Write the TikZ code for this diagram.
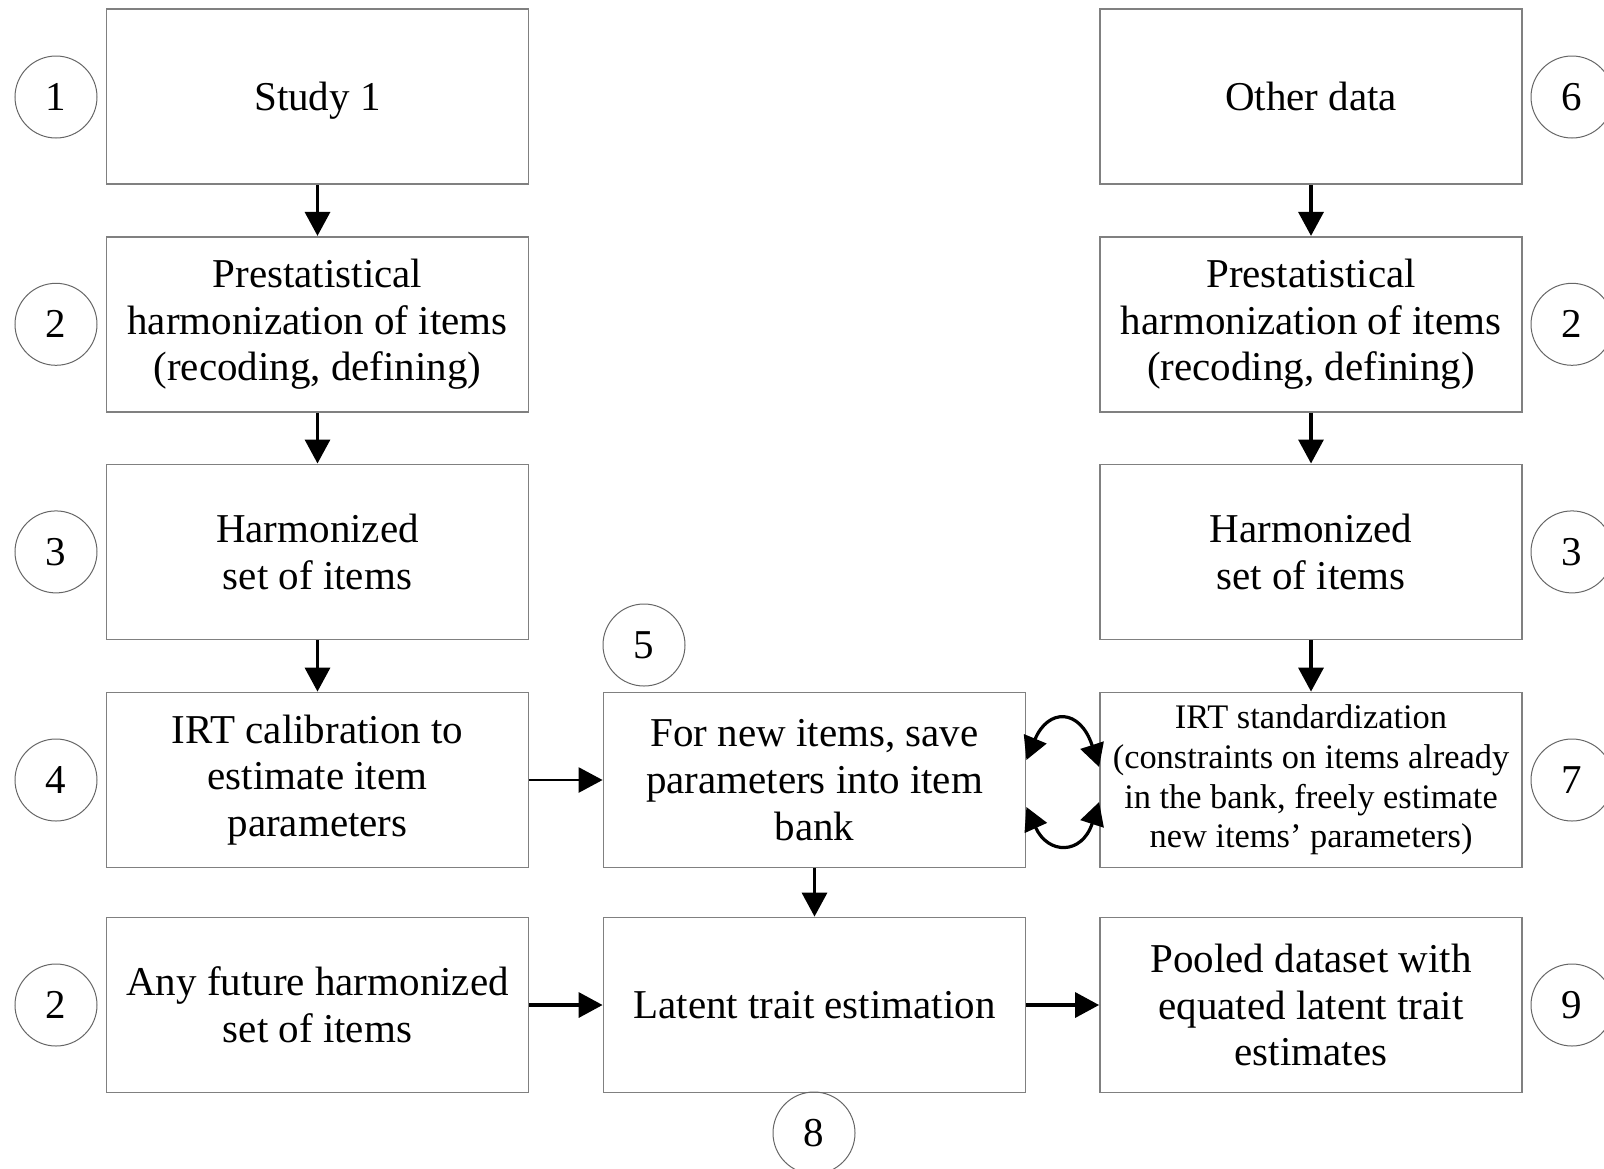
\documentclass[tikz,border=0pt]{standalone}
\usepackage{fontspec}
\setmainfont{Liberation Serif}
\usetikzlibrary{arrows.meta}
\begin{document}
\begin{tikzpicture}[x=0.5pt,y=-0.5pt,
  box/.style={draw=black!50,line width=0.9pt,minimum width=211pt,minimum height=87.5pt,
    align=center,inner sep=0pt,font=\fontsize{20.5}{23.4}\selectfont},
  smallbox/.style={box,font=\fontsize{17.2}{19.8}\selectfont},
  num/.style={circle,draw=black!60,line width=0.5pt,minimum size=41pt,inner sep=0pt,
    font=\fontsize{20.5}{23.4}\selectfont},
  arr/.style={line width=1.7pt,-{Triangle[length=12pt,width=12.5pt]}},
  carr/.style={line width=1.6pt,{Triangle[length=11.5pt,width=12pt]}-{Triangle[length=11.5pt,width=12pt]}}]
\useasboundingbox (0,0) rectangle (1604,1168);
\clip (0,0) rectangle (1604,1168);
% left column
\node[box] (b1) at (317.5,96.7) {\raisebox{0pt}[\height][0pt]{Study 1}};
\node[box] (b2l) at (317.5,324.3) {Prestatistical\\harmonization of items\\(recoding, defining)};
\node[box] (b3l) at (317.5,551.9) {Harmonized\\set of items};
\node[box] (b4) at (317.5,780) {IRT calibration to\\estimate item\\parameters};
\node[box] (b2f) at (317.5,1005) {Any future harmonized\\set of items};
% middle column
\node[box] (b5) at (814.5,780) {For new items, save\\parameters into item\\bank};
\node[box] (b8) at (814.5,1005) {Latent trait estimation};
% right column
\node[box] (b6) at (1311,96.7) {Other data};
\node[box] (b2r) at (1311,324.3) {Prestatistical\\harmonization of items\\(recoding, defining)};
\node[box] (b3r) at (1311,551.9) {Harmonized\\set of items};
\node[smallbox] (b7) at (1311,780) {IRT standardization\\(constraints on items already\\in the bank, freely estimate\\new items' parameters)};
\node[box] (b9) at (1311,1005) {Pooled dataset with\\equated latent trait\\estimates};
% numbered circles
\node[num] (n1) at (56,97) {1};
\node[num] (n2a) at (56,324.3) {2};
\node[num] (n3a) at (56,551.9) {3};
\node[num] (n4) at (56,780) {4};
\node[num] (n2b) at (56,1005) {2};
\node[num] (n6) at (1572,97) {6};
\node[num] (n2c) at (1572,324.3) {2};
\node[num] (n3b) at (1572,551.9) {3};
\node[num] (n7) at (1572,780) {7};
\node[num] (n9) at (1572,1005) {9};
\node[num] (n5) at (644,645) {5};
\node[num] (n8) at (814,1133) {8};
% arrows
\draw[arr] (b1) -- (b2l);
\draw[arr] (b2l) -- (b3l);
\draw[arr] (b3l) -- (b4);
\draw[arr] (b6) -- (b2r);
\draw[arr] (b2r) -- (b3r);
\draw[arr] (b3r) -- (b7);
\draw[arr] (b5) -- (b8);
\draw[arr,line width=1.3pt] (b4) -- (b5);
\draw[arr] (b2f) -- (b8);
\draw[arr] (b8) -- (b9);
\draw[carr] ([yshift=10pt]b5.east) .. controls (1048,708) and (1080,708) .. ([yshift=6.5pt]b7.west);
\draw[carr] ([yshift=-13.5pt]b5.east) .. controls (1048,855) and (1082,855) .. ([yshift=-11pt]b7.west);
\end{tikzpicture}
\end{document}
